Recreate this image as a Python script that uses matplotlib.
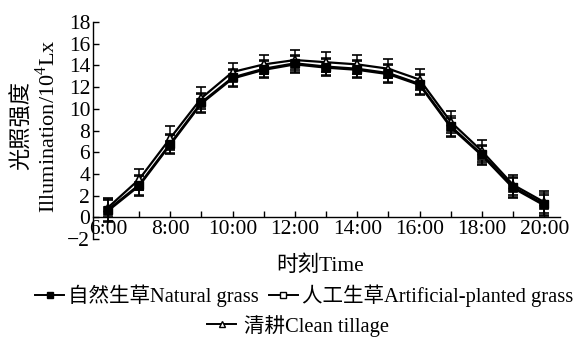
import matplotlib
matplotlib.use("Agg")
import matplotlib.pyplot as plt
from matplotlib.lines import Line2D

plt.rcParams['font.family'] = ['Liberation Serif', 'Noto Sans CJK SC']
plt.rcParams['mathtext.fontset'] = 'custom'
plt.rcParams['mathtext.rm'] = 'Liberation Serif'
plt.rcParams['axes.unicode_minus'] = True

hours = [6, 7, 8, 9, 10, 11, 12, 13, 14, 15, 16, 17, 18, 19, 20]
xtick_pos = [6, 8, 10, 12, 14, 16, 18, 20]
xtick_labels = ["6:00", "8:00", "10:00", "12:00", "14:00", "16:00", "18:00", "20:00"]

natural = [0.7, 3.0, 6.8, 10.6, 12.9, 13.7, 14.2, 13.9, 13.7, 13.3, 12.3, 8.4, 5.8, 2.8, 1.2]
natural_err = [1.0, 0.9, 0.9, 0.9, 0.8, 0.8, 0.8, 0.8, 0.8, 0.8, 0.9, 0.9, 0.9, 0.9, 1.0]
artificial = [0.6, 2.9, 6.7, 10.5, 12.8, 13.6, 14.1, 13.8, 13.6, 13.2, 12.2, 8.3, 5.7, 2.7, 1.1]
artificial_err = [1.0, 0.9, 0.9, 0.9, 0.8, 0.8, 0.8, 0.8, 0.8, 0.8, 0.9, 0.9, 0.9, 0.9, 1.0]
clean = [0.9, 3.5, 7.3, 11.0, 13.4, 14.1, 14.5, 14.3, 14.1, 13.7, 12.7, 8.8, 6.1, 3.0, 1.4]
clean_err = [0.9, 1.0, 1.1, 1.0, 0.8, 0.9, 0.9, 0.9, 0.9, 0.9, 1.0, 1.0, 1.0, 0.9, 1.0]

labels = ["自然生草Natural grass", "人工生草Artificial-planted grass", "清耕Clean tillage"]

fig = plt.figure(figsize=(5.85, 3.4), dpi=100)
ax = fig.add_axes([0.159, 0.297, 0.798, 0.638])

common = dict(color='black', lw=1.6, capsize=3.5, elinewidth=1.1, capthick=1.1, ms=6)
ax.errorbar(hours, artificial, yerr=artificial_err, marker='s', mfc='white', mec='black', mew=1.2, **common)
ax.errorbar(hours, clean, yerr=clean_err, marker='^', mfc='white', mec='black', mew=1.2, **common)
ax.errorbar(hours, natural, yerr=natural_err, marker='s', mfc='black', mec='black', **common)

ax.set_xlim(5.52, 20.5)
ax.set_ylim(-2, 18)
ax.set_yticks(range(-2, 19, 2))
ax.set_xticks(xtick_pos)
ax.set_xticklabels(xtick_labels)
ax.set_xticks(hours, minor=True)
ax.spines['top'].set_visible(False)
ax.spines['right'].set_visible(False)
ax.spines['bottom'].set_position(('data', 0))
for s in ['left', 'bottom']:
    ax.spines[s].set_linewidth(1.0)
ax.tick_params(axis='both', which='both', direction='in', length=4, width=1.0, labelsize=15.5)
ax.tick_params(axis='x', which='both', pad=2)
ax.tick_params(axis='y', pad=2)

fig.text(0.038, 0.63, "光照强度", rotation=90, ha='center', va='center', fontsize=16)
fig.text(0.082, 0.63, "Illumination/10$^4$Lx", rotation=90, ha='center', va='center', fontsize=16)
fig.text(0.547, 0.22, "时刻Time", ha='center', va='center', fontsize=15.5)

h1 = Line2D([], [], color='black', lw=1.4, marker='s', ms=4, mfc='black', mec='black')
h2 = Line2D([], [], color='black', lw=1.4, marker='s', ms=4, mfc='white', mec='black')
h3 = Line2D([], [], color='black', lw=1.4, marker='^', ms=4, mfc='white', mec='black')
fig.legend([h1, h2], labels[:2], loc='center', bbox_to_anchor=(0.52, 0.13), ncol=2,
           frameon=False, fontsize=14.8, handlelength=1.4, handletextpad=0.2, columnspacing=0.5,
           borderpad=0, borderaxespad=0)
fig.legend([h3], labels[2:], loc='center', bbox_to_anchor=(0.51, 0.042),
           frameon=False, fontsize=14.8, handlelength=1.4, handletextpad=0.4,
           borderpad=0, borderaxespad=0)

fig.savefig("out.png", dpi=100)
